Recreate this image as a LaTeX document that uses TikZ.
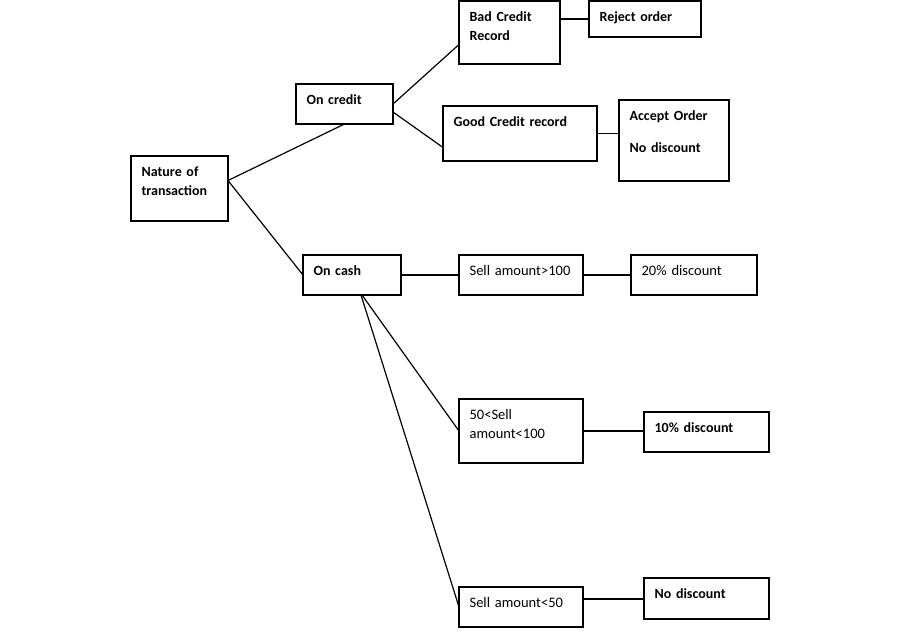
\documentclass[tikz,border=0pt]{standalone}
\usepackage{fontspec}
\setmainfont{Carlito}[WordSpace=0.8]
\usetikzlibrary{calc}
\tikzset{
  every picture/.style={line width=1.2pt},
  box/.style n args={2}{draw, anchor=north west, inner sep=0pt, outer sep=0pt,
    minimum width=#1pt, minimum height=#2pt},
  txt/.style={anchor=base west, inner sep=0pt, align=left, text width=150pt,
    xshift=10pt, yshift=-20pt, font=\fontsize{14}{19}\selectfont\bfseries},
  plain/.style={txt, font=\fontsize{14.5}{19}\selectfont},
  link/.style={draw, line width=1.2pt},
}

\begin{document}
\begin{tikzpicture}[x=1pt, y=-1pt]
  \fill[white] (0,0) rectangle (900,640);
  \useasboundingbox (0,0) rectangle (900,640);
  % root and first split
  \node[box={97}{65}, label={[txt]north west:Nature of\\transaction}] (nature) at (131,156) {};
  \node[box={97}{40}, label={[txt]north west:On credit}] (credit) at (296,84) {};
  \node[box={98}{40}, label={[txt]north west:On cash}] (cash) at (303,255) {};
  % credit branch
  \node[box={101}{63}, label={[txt]north west:Bad Credit\\Record}] (bad) at (459,1) {};
  \node[box={112}{36}, label={[txt]north west:Reject order}] (reject) at (589,1) {};
  \node[box={154}{55}, label={[txt]north west:Good Credit record}] (good) at (443,106) {};
  \node[box={110}{81}, label={[txt]north west:Accept Order\\[13pt]No discount}] (accept) at (619,100) {};
  % cash branch
  \node[box={124}{40}, label={[plain]north west:Sell amount>100}] (over) at (459,255) {};
  \node[box={126}{40}, label={[plain]north west:20\% discount}] (twenty) at (631,255) {};
  \node[box={124}{64}, label={[plain]north west:50<Sell\\amount<100}] (mid) at (459,399) {};
  \node[box={125}{40}, label={[txt]north west:10\% discount}] (ten) at (644,412) {};
  \node[box={124}{40}, label={[plain]north west:Sell amount<50}] (under) at (459,587) {};
  \node[box={125}{41}, label={[txt]north west:No discount}] (none) at (644,578) {};

  \coordinate (split) at ([yshift=8pt]nature.east);
  \draw[link] (split) -- (credit.south);
  \draw[link] (split) -- (cash.west);
  \draw[link] (credit.east) -- ([yshift=-12pt]bad.west);
  \draw[link] ([yshift=-8pt]credit.east) -- ([yshift=-14pt]good.west);
  \draw[link] (reject.west -| bad.east) -- (reject.west);
  \draw[link] (good.east) -- (good.east -| accept.west);
  \draw[link] (cash.east) -- (over.west);
  \draw[link] (over.east) -- (twenty.west);
  \draw[link] ([xshift=10pt]cash.south) -- (mid.west);
  \draw[link] ([xshift=9pt]cash.south) -- (under.west);
  \draw[link] (mid.east) -- (mid.east -| ten.west);
  \draw[link] ([yshift=8pt]under.east) -- ([yshift=8pt]under.east -| none.west);
\end{tikzpicture}
\end{document}
